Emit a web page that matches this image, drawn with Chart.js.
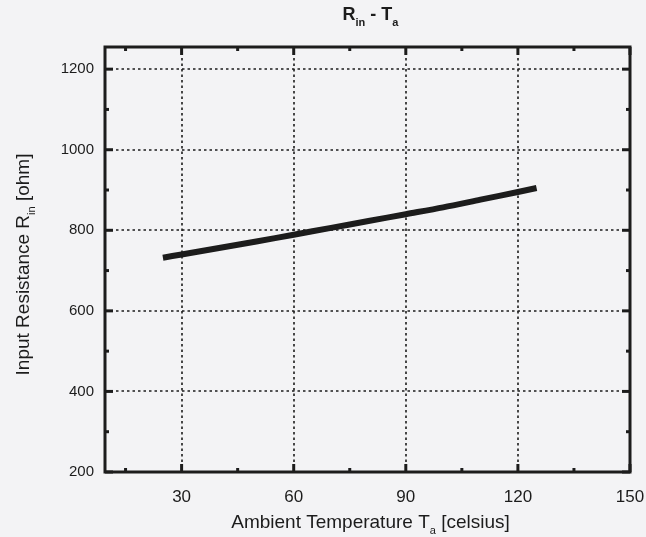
<!DOCTYPE html>
<html lang="en">
<head>
  <meta charset="UTF-8">
  <title>Rin - Ta</title>
  <script src="https://cdn.jsdelivr.net/npm/chart.js"></script>
  <style>
    html, body { margin: 0; padding: 0; background: #f3f3f5; }
    #wrap { width: 646px; height: 537px; }
  </style>
</head>
<body>
  <div id="wrap"><canvas id="chart" width="646" height="537"></canvas></div>
  <script>
    // data
    const temps = [25, 30, 40, 50, 60, 70, 80, 90, 100, 110, 120, 125];
    const resistance = [732, 740, 756, 772, 789, 806, 823, 840, 857, 876, 895, 905];
    const xTicks = [30, 60, 90, 120, 150];
    const xMinor = [15, 45, 75, 105, 135];
    const yTicks = [200, 400, 600, 800, 1000, 1200];
    const yMinor = [300, 500, 700, 900, 1100];

    const ink = '#1c1c1c';
    const fam = '"Liberation Sans", Arial, sans-serif';

    // draw text made of [string, isSubscript] pieces, centred on x
    function drawRich(ctx, parts, x, y, size, bold) {
      const weight = bold ? 'bold ' : '';
      const subSize = Math.round(size * 0.6);
      let total = 0;
      parts.forEach(p => {
        ctx.font = weight + (p[1] ? subSize : size) + 'px ' + fam;
        total += ctx.measureText(p[0]).width;
      });
      let cx = x - total / 2;
      ctx.textAlign = 'left';
      ctx.textBaseline = 'alphabetic';
      parts.forEach(p => {
        ctx.font = weight + (p[1] ? subSize : size) + 'px ' + fam;
        ctx.fillText(p[0], cx, y + (p[1] ? size * 0.32 : 0));
        cx += ctx.measureText(p[0]).width;
      });
    }

    const framePlugin = {
      id: 'frame',
      beforeDraw(chart) {
        const { ctx, chartArea: a, scales: { x, y } } = chart;
        ctx.save();
        ctx.fillStyle = '#f3f3f5';
        ctx.fillRect(0, 0, chart.width, chart.height);
        // dotted grid
        ctx.strokeStyle = ink;
        ctx.lineWidth = 1.6;
        ctx.setLineDash([2.5, 3]);
        xTicks.forEach(v => {
          const px = Math.round(x.getPixelForValue(v));
          if (px >= a.right - 1) return;
          ctx.beginPath(); ctx.moveTo(px, a.top); ctx.lineTo(px, a.bottom); ctx.stroke();
        });
        yTicks.forEach(v => {
          const py = Math.round(y.getPixelForValue(v));
          if (py >= a.bottom - 1) return;
          ctx.beginPath(); ctx.moveTo(a.left, py); ctx.lineTo(a.right, py); ctx.stroke();
        });
        ctx.restore();
      },
      afterDraw(chart) {
        const { ctx, chartArea: a, scales: { x, y } } = chart;
        ctx.save();
        ctx.strokeStyle = ink;
        // ticks on all four sides, pointing inward
        ctx.lineWidth = 3;
        const tickX = (vals, len) => {
          vals.forEach(v => {
            const px = x.getPixelForValue(v);
            ctx.beginPath(); ctx.moveTo(px, a.bottom); ctx.lineTo(px, a.bottom - len); ctx.stroke();
            ctx.beginPath(); ctx.moveTo(px, a.top); ctx.lineTo(px, a.top + len); ctx.stroke();
          });
        };
        const tickY = (vals, len) => {
          vals.forEach(v => {
            const py = y.getPixelForValue(v);
            ctx.beginPath(); ctx.moveTo(a.left, py); ctx.lineTo(a.left + len, py); ctx.stroke();
            ctx.beginPath(); ctx.moveTo(a.right, py); ctx.lineTo(a.right - len, py); ctx.stroke();
          });
        };
        tickX(xTicks, 8); tickX(xMinor, 4);
        tickY(yTicks, 8); tickY(yMinor, 4);
        // frame
        ctx.lineWidth = 3;
        ctx.strokeRect(a.left, a.top, a.right - a.left, a.bottom - a.top);
        // titles
        ctx.fillStyle = ink;
        const mid = (a.left + a.right) / 2;
        drawRich(ctx, [['R', 0], ['in', 1], [' - T', 0], ['a', 1]], mid + 3, 20, 18, true);
        drawRich(ctx, [['Ambient Temperature T', 0], ['a', 1], [' [celsius]', 0]], mid + 3, 528, 19, false);
        ctx.translate(29, (a.top + a.bottom) / 2);
        ctx.rotate(-Math.PI / 2);
        drawRich(ctx, [['Input Resistance R', 0], ['in', 1], [' [ohm]', 0]], -5, 0, 19, false);
        ctx.restore();
      }
    };

    new Chart(document.getElementById('chart'), {
      type: 'line',
      data: {
        datasets: [{
          data: temps.map((t, i) => ({ x: t, y: resistance[i] })),
          borderColor: ink,
          borderWidth: 6,
          pointRadius: 0,
          tension: 0.3,
          fill: false
        }]
      },
      plugins: [framePlugin],
      options: {
        responsive: false,
        animation: false,
        layout: { padding: { left: 0, top: 47, right: 16, bottom: 0 } },
        plugins: { legend: { display: false }, tooltip: { enabled: false } },
        scales: {
          x: {
            type: 'linear',
            min: 9.5,
            max: 150,
            afterBuildTicks(s) { s.ticks = xTicks.map(v => ({ value: v })); },
            afterFit(s) { s.height = 65; s.paddingLeft = 0; s.paddingRight = 0; },
            grid: { display: false },
            border: { display: false },
            ticks: {
              color: ink,
              padding: 7,
              maxRotation: 0,
              callback: v => String(v),
              font: { size: 17, family: fam }
            }
          },
          y: {
            min: 200,
            max: 1255,
            afterBuildTicks(s) { s.ticks = yTicks.map(v => ({ value: v })); },
            afterFit(s) { s.width = 105; s.paddingTop = 0; s.paddingBottom = 0; },
            grid: { display: false },
            border: { display: false },
            ticks: {
              color: ink,
              padding: 3,
              callback: v => String(v),
              font: { size: 15, family: fam }
            }
          }
        }
      }
    });
  </script>
</body>
</html>
